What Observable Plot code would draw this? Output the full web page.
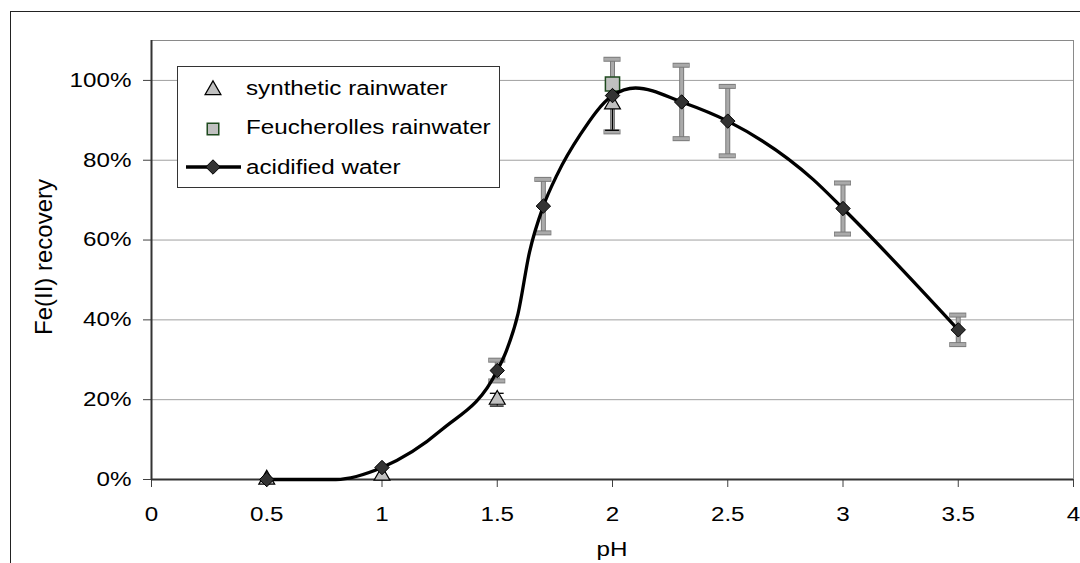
<!DOCTYPE html>
<html>
<head>
<meta charset="utf-8">
<script src="https://cdn.jsdelivr.net/npm/d3@7"></script>
<script src="https://cdn.jsdelivr.net/npm/@observablehq/plot@0.6"></script>
<style>
html, body { margin: 0; padding: 0; background: #fff; }
#chart { width: 1080px; height: 563px; overflow: hidden; position: relative; }
</style>
</head>
<body>
<div id="chart"></div>
<script>
// ---------- data ----------
const seriesNames = ["synthetic rainwater", "Feucherolles rainwater", "acidified water"];

const acidPH      = [0.5, 1.0, 1.5, 1.7, 2.0, 2.3, 2.5, 3.0, 3.5];
const acidVal     = [0, 3, 27.3, 68.5, 96.2, 94.6, 89.8, 67.9, 37.5];
const acidErr     = [0, 0, 2.6, 6.7, 9.1, 9.2, 8.7, 6.4, 3.7];

const synthPH     = [0.5, 1.0, 1.5, 2.0];
const synthVal    = [0, 1, 20, 94];
const synthErr    = [0, 0, 1.6, 6.5];

const feuchPH     = [2.0];
const feuchVal    = [99.1];

// smoothed curve drawn through the acidified-water results
const curvePH     = [0.5, 0.8, 1.0, 1.26, 1.5, 1.54, 1.59, 1.64, 1.7, 1.76, 1.86, 2.0, 2.1, 2.3, 2.5, 2.87, 3.0, 3.5];
const curveVal    = [0, 0, 3, 12.5, 27.3, 32.3, 41.5, 57, 68.5, 76.4, 86.4, 96.2, 98.1, 94.6, 89.8, 75.2, 67.9, 37.5];

const xTicks      = [0, 0.5, 1, 1.5, 2, 2.5, 3, 3.5, 4];
const xTickLabels = ["0", "0.5", "1", "1.5", "2", "2.5", "3", "3.5", "4"];
const yTicks      = [0, 20, 40, 60, 80, 100];
const yTickLabels = ["0%", "20%", "40%", "60%", "80%", "100%"];
const xTitle = "pH";
const yTitle = "Fe(II) recovery";

// ---------- tables ----------
const acid  = acidPH.map((x, i) => ({x, y: acidVal[i], e: acidErr[i]}));
const synth = synthPH.map((x, i) => ({x, y: synthVal[i], e: synthErr[i]}));
const feuch = feuchPH.map((x, i) => ({x, y: feuchVal[i]}));
const curve = curvePH.map((x, i) => ({x, y: curveVal[i]}));

const acidE = acid.filter(d => d.e > 0);
const acidCaps = acidE.flatMap(d => [{x: d.x, y: d.y + d.e}, {x: d.x, y: d.y - d.e}]);
const synthE = synth.filter(d => d.e > 0);
const synthCaps = synthE.flatMap(d => [{x: d.x, y: d.y + d.e}, {x: d.x, y: d.y - d.e}]);

const W = 1080, H = 563, ML = 151, MR = 7, MT = 40, MB = 84;
const capA = 0.037, capS = 0.03;
const FONT = "'Liberation Sans', Arial, sans-serif";
const R_TRI = 5.9, R_SQ = 8, R_DIA = 6.5;

const plot = Plot.plot({
  width: W, height: H,
  marginLeft: ML, marginRight: MR, marginTop: MT, marginBottom: MB,
  style: {fontFamily: FONT, fontSize: "20px", background: "#fff", color: "#000", overflow: "hidden"},
  x: {domain: [0, 4]},
  y: {domain: [0, 110]},
  marks: [
    Plot.gridY(yTicks.filter(d => d > 0), {stroke: "#a0a0a0", strokeOpacity: 1, strokeWidth: 1}),
    Plot.ruleY([110], {stroke: "#8a8a8a", strokeWidth: 1}),
    Plot.ruleX([4], {stroke: "#8a8a8a", strokeWidth: 1}),
    Plot.axisX({ticks: xTicks, tickFormat: d => xTickLabels[xTicks.indexOf(d)], tickSize: 8, tickPadding: 19,
                label: null, stroke: "#404040", fontSize: 20, fontFamily: FONT, fill: "#000"}),
    Plot.axisY({ticks: yTicks, tickFormat: d => yTickLabels[yTicks.indexOf(d)], tickSize: 8, tickPadding: 12,
                label: null, stroke: "#404040", fontSize: 20, fontFamily: FONT, fill: "#000"}),
    Plot.ruleY([0], {stroke: "#333", strokeWidth: 2}),
    Plot.ruleX([0], {stroke: "#333", strokeWidth: 2}),
    // acidified water error bars (hatched grey)
    Plot.ruleX(acidE, {x: "x", y1: d => d.y - d.e, y2: d => d.y + d.e, stroke: "#7a7a7a", strokeWidth: 5}),
    Plot.ruleX(acidE, {x: "x", y1: d => d.y - d.e, y2: d => d.y + d.e, stroke: "url(#hatch)", strokeWidth: 3}),
    Plot.ruleY(acidCaps, {y: "y", x1: d => d.x - capA, x2: d => d.x + capA, stroke: "#7a7a7a", strokeWidth: 5}),
    Plot.ruleY(acidCaps, {y: "y", x1: d => d.x - capA + 0.003, x2: d => d.x + capA - 0.003, stroke: "url(#hatch)", strokeWidth: 3}),
    // synthetic rainwater error bars (thin black)
    Plot.ruleX(synthE, {x: "x", y1: d => d.y - d.e, y2: d => d.y + d.e, stroke: "#000", strokeWidth: 1.3}),
    Plot.ruleY(synthCaps, {y: "y", x1: d => d.x - capS, x2: d => d.x + capS, stroke: "#000", strokeWidth: 1.3}),
    Plot.dot(synth, {x: "x", y: "y", symbol: "triangle", r: R_TRI, fill: "#c0c0c0", stroke: "#000", strokeWidth: 1.2}),
    Plot.dot(feuch, {x: "x", y: "y", symbol: "square", r: R_SQ, fill: "#c0c0c0", stroke: "#1e4a1e", strokeWidth: 1.5}),
    Plot.line(curve, {x: "x", y: "y", curve: "monotone-x", stroke: "#000", strokeWidth: 3.3}),
    Plot.dot(acid, {x: "x", y: "y", symbol: "diamond2", r: R_DIA, fill: "#333", stroke: "#000", strokeWidth: 1})
  ]
});

document.getElementById("chart").appendChild(plot);
const svg = d3.select(plot);

// hatch pattern for error bars
const defs = svg.insert("defs", ":first-child");
const pat = defs.append("pattern").attr("id", "hatch").attr("patternUnits", "userSpaceOnUse")
  .attr("width", 2).attr("height", 2);
pat.append("rect").attr("width", 2).attr("height", 2).attr("fill", "#e6e6e6");
pat.append("rect").attr("width", 1).attr("height", 1).attr("fill", "#6e6e6e");
pat.append("rect").attr("x", 1).attr("y", 1).attr("width", 1).attr("height", 1).attr("fill", "#6e6e6e");

// outer chart-area frame
svg.insert("rect", "defs + *").attr("x", 10.5).attr("y", 11.5).attr("width", 1200).attr("height", 700)
  .attr("fill", "none").attr("stroke", "#222").attr("stroke-width", 1);

// x axis title
svg.append("text").attr("x", (ML + W - MR) / 2).attr("y", 556)
  .attr("text-anchor", "middle").attr("font-family", FONT).attr("font-size", 20).attr("fill", "#000").text(xTitle);

// legend
const lg = svg.append("g").attr("font-family", FONT).attr("font-size", 20).attr("text-anchor", "start");
lg.append("rect").attr("x", 177.5).attr("y", 66.5).attr("width", 322).attr("height", 121)
  .attr("fill", "#fff").attr("stroke", "#333").attr("stroke-width", 1);
lg.append("path").attr("transform", "translate(213,90)")
  .attr("d", d3.symbol(d3.symbolTriangle, Math.PI * R_TRI * R_TRI)())
  .attr("fill", "#c0c0c0").attr("stroke", "#000").attr("stroke-width", 1.2);
lg.append("path").attr("transform", "translate(213,129)")
  .attr("d", d3.symbol(d3.symbolSquare, Math.PI * (R_SQ - 1.5) * (R_SQ - 1.5))())
  .attr("fill", "#c0c0c0").attr("stroke", "#1e4a1e").attr("stroke-width", 1.5);
lg.append("line").attr("x1", 186).attr("x2", 241).attr("y1", 167).attr("y2", 167)
  .attr("stroke", "#000").attr("stroke-width", 3.3);
lg.append("path").attr("transform", "translate(213,167)")
  .attr("d", d3.symbol(d3.symbolDiamond2, Math.PI * R_DIA * R_DIA)())
  .attr("fill", "#333").attr("stroke", "#000").attr("stroke-width", 1);
[95, 134, 174].forEach((yy, i) => {
  lg.append("text").attr("x", 246).attr("y", yy).attr("text-anchor", "start").attr("fill", "#000").text(seriesNames[i]);
});

// horizontal stretch of texts (reference glyphs are wide)
const SX = 1.21;
plot.querySelectorAll("text").forEach(t => {
  const bb = t.getBBox();
  const anchor = getComputedStyle(t).textAnchor;
  const ax = anchor === "end" ? bb.x + bb.width : anchor === "middle" ? bb.x + bb.width / 2 : bb.x;
  const tr = t.getAttribute("transform") || "";
  t.setAttribute("transform", `${tr} translate(${ax},0) scale(${SX},1) translate(${-ax},0)`);
});

// rotated y title
svg.append("text").attr("transform", `translate(52,257) rotate(-90)`)
  .attr("text-anchor", "middle").attr("font-family", FONT).attr("font-size", 24).attr("fill", "#000").text(yTitle);
</script>
</body>
</html>
